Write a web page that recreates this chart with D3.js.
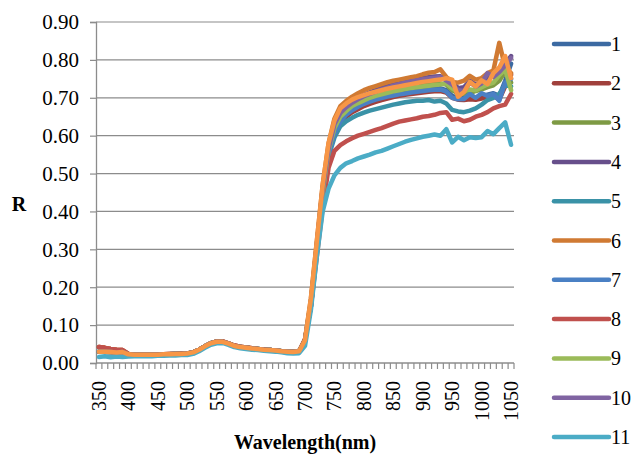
<!DOCTYPE html>
<html lang="en"><head><meta charset="utf-8">
<script src="https://cdn.jsdelivr.net/npm/d3@7"></script>
<style>
.xl{position:absolute;width:50px;height:20px;line-height:20px;text-align:right;white-space:nowrap;
    font-family:"Liberation Serif","FreeSerif","Tinos","Times New Roman",serif;
    font-size:20px;color:#000;transform-origin:0 0;transform:rotate(-90deg);}
</style>
</head><body style="margin:0" lang="en">
<div id="wrap" lang="en" style="position:relative;width:634px;height:454px;">
<svg id="chart" width="634" height="454" lang="en" xml:lang="en" style="position:absolute;left:0;top:0"></svg>
</div>
<script>
// ---------- data ----------
const wavelengths = d3.range(350, 1051, 10);            // 71 categories
const xTickLabels = ["350","400","450","500","550","600","650","700","750","800","850","900","950","1000","1050"];
const yTickValues = [0,0.1,0.2,0.3,0.4,0.5,0.6,0.7,0.8,0.9];
const legendNames = ["1","2","3","4","5","6","7","8","9","10","11"];
const seriesColors = ["#3C6AA2","#A0403C","#7E9A44","#674F8B","#3A92A7","#D07A33","#4A80C4","#C0504D","#9BBB59","#8064A2","#4BACC6","#F79646"];

// 350..700 nm (36 values)
const lowCommon = [0.030,0.030,0.029,0.028,0.029,0.023,0.022,0.022,0.022,0.022,0.022,0.023,0.023,0.024,0.024,0.025,0.028,0.035,0.044,0.052,0.056,0.056,0.051,0.045,0.042,0.040,0.038,0.037,0.035,0.034,0.033,0.031,0.030,0.029,0.031,0.060];
const lowHigh   = [0.042,0.040,0.037,0.035,0.034,0.024,0.022,0.022,0.022,0.022,0.023,0.023,0.024,0.024,0.025,0.025,0.028,0.035,0.044,0.052,0.057,0.057,0.052,0.046,0.043,0.041,0.039,0.037,0.036,0.034,0.033,0.031,0.030,0.029,0.031,0.062];
const lowTeal   = [0.016,0.018,0.015,0.017,0.016,0.017,0.018,0.018,0.018,0.018,0.019,0.019,0.020,0.020,0.021,0.021,0.024,0.031,0.040,0.048,0.052,0.053,0.048,0.042,0.039,0.037,0.035,0.034,0.032,0.031,0.030,0.028,0.026,0.025,0.026,0.045];

// 710..1050 nm (35 values)
const high1  = [.15,.30,.45,.56,.615,.645,.66,.672,.68,.688,.693,.698,.702,.706,.709,.712,.714,.717,.719,.721,.722,.723,.725,.72,.705,.70,.70,.702,.70,.703,.708,.712,.705,.745,.79];
const high2  = [.15,.30,.44,.55,.605,.635,.65,.662,.67,.678,.684,.689,.694,.698,.702,.705,.708,.71,.712,.714,.716,.717,.718,.714,.70,.695,.694,.696,.695,.698,.702,.705,.695,.73,.76];
const high3  = [.16,.31,.46,.565,.625,.655,.67,.682,.69,.697,.703,.708,.712,.717,.72,.723,.726,.728,.73,.733,.735,.737,.738,.735,.72,.712,.71,.712,.718,.722,.728,.733,.745,.77,.74];
const high4  = [.16,.31,.46,.57,.635,.665,.68,.692,.70,.708,.714,.72,.726,.731,.736,.74,.744,.747,.75,.752,.754,.756,.757,.75,.742,.725,.728,.745,.735,.742,.755,.762,.77,.79,.81];
const high5  = [.15,.30,.44,.545,.595,.625,.638,.647,.655,.661,.666,.67,.674,.678,.682,.685,.688,.69,.692,.692,.694,.69,.692,.685,.668,.664,.662,.666,.672,.682,.694,.70,.71,.735,.73];
const high6  = [.17,.32,.47,.58,.645,.678,.692,.703,.712,.72,.726,.731,.736,.741,.745,.748,.751,.754,.757,.762,.766,.768,.775,.755,.742,.74,.745,.758,.748,.752,.765,.772,.845,.78,.765];
const high7  = [.15,.29,.44,.55,.605,.638,.655,.667,.676,.684,.69,.695,.699,.703,.706,.709,.711,.714,.716,.718,.72,.721,.722,.716,.70,.696,.697,.71,.70,.712,.705,.71,.692,.74,.75];
const high8  = [.15,.28,.41,.515,.56,.575,.585,.593,.60,.605,.61,.615,.62,.626,.632,.637,.64,.643,.646,.65,.652,.655,.66,.662,.642,.645,.638,.642,.65,.655,.662,.672,.678,.682,.71];
const high9  = [.16,.30,.45,.56,.62,.65,.665,.678,.686,.693,.70,.705,.709,.713,.717,.72,.723,.726,.728,.73,.732,.734,.735,.738,.725,.715,.718,.722,.72,.728,.735,.74,.76,.775,.72];
const high10 = [.16,.31,.46,.565,.63,.66,.675,.687,.696,.704,.71,.716,.722,.727,.732,.736,.74,.743,.746,.749,.751,.753,.755,.745,.735,.72,.718,.74,.73,.738,.765,.755,.768,.785,.805];
const high11 = [.14,.28,.40,.46,.495,.515,.527,.533,.54,.545,.55,.556,.56,.566,.572,.578,.584,.589,.593,.597,.60,.603,.60,.617,.582,.597,.588,.596,.594,.596,.612,.604,.62,.635,.576];
const high12 = [.17,.32,.47,.58,.64,.672,.685,.695,.702,.707,.712,.716,.72,.724,.727,.73,.733,.736,.739,.742,.744,.746,.748,.752,.748,.703,.715,.742,.73,.746,.736,.765,.78,.81,.752];

const seriesValues = [
  lowCommon.concat(high1), lowHigh.concat(high2), lowCommon.concat(high3), lowCommon.concat(high4),
  lowCommon.concat(high5), lowHigh.concat(high6), lowCommon.concat(high7), lowHigh.concat(high8),
  lowCommon.concat(high9), lowCommon.concat(high10), lowTeal.concat(high11), lowCommon.concat(high12)
];

// ---------- chart ----------
const svg = d3.select("#chart");
const FONT = '"Liberation Serif","FreeSerif","Tinos","Times New Roman",serif';
const L = 96, R = 514, T = 22, B = 363;

const x = d3.scaleBand().domain(wavelengths).range([L, R]).padding(0);
const cx = w => x(w) + x.bandwidth() / 2;
const y = d3.scaleLinear().domain([0, 0.9]).range([B, T]);

const gridCol = "#8c8c8c";

// gridlines
svg.append("g").selectAll("line").data(yTickValues.filter(v => v > 0)).join("line")
  .attr("x1", L).attr("x2", R).attr("y1", d => y(d)).attr("y2", d => y(d))
  .attr("stroke", gridCol).attr("stroke-width", 1.2);

// y axis (line + ticks from d3 axis; labels placed without transforms)
const yAxis = d3.axisLeft(y).tickValues(yTickValues).tickSize(6).tickFormat("");
const gy = svg.append("g").attr("transform", `translate(${L},0)`).call(yAxis);
gy.select(".domain").attr("stroke", gridCol).attr("stroke-width", 1.3);
gy.selectAll(".tick line").attr("stroke", gridCol).attr("stroke-width", 1.2);
gy.selectAll(".tick text").remove();
svg.append("g").selectAll("text").data(yTickValues).join("text")
  .attr("x", L - 17).attr("y", d => y(d)).attr("dy", "0.35em")
  .attr("text-anchor", "end").attr("fill", "#000").attr("lang", "en")
  .attr("font-family", FONT).attr("font-size", 21)
  .text(d => d3.format(".2f")(d));

// x axis (category boundaries as ticks)
svg.append("line").attr("x1", L).attr("x2", R).attr("y1", B).attr("y2", B)
  .attr("stroke", gridCol).attr("stroke-width", 1.3);
const bounds = wavelengths.map(w => x(w)).concat([R]);
svg.append("g").selectAll("line").data(bounds).join("line")
  .attr("x1", d => d).attr("x2", d => d).attr("y1", B).attr("y2", B + 6)
  .attr("stroke", gridCol).attr("stroke-width", 1.2);

// rotated x labels as HTML overlay
d3.select("#wrap").selectAll("div.xl").data(xTickLabels).join("div")
  .attr("class", "xl").attr("lang", "en")
  .style("left", d => (cx(+d) - 10) + "px")
  .style("top", (381 + 50) + "px")
  .text(d => d);

// axis titles
svg.append("text").attr("x", 19).attr("y", 204)
  .attr("text-anchor", "middle").attr("dy", "0.35em")
  .attr("font-family", FONT).attr("font-size", 20).attr("font-weight", "bold").text("R");
svg.append("text").attr("x", 305).attr("y", 449)
  .attr("text-anchor", "middle")
  .attr("font-family", FONT).attr("font-size", 20).attr("font-weight", "bold").text("Wavelength(nm)");

// series lines
const line = d3.line().x((d, i) => cx(wavelengths[i])).y(d => y(d));
svg.append("g").selectAll("path").data(seriesValues).join("path")
  .attr("d", d => line(d))
  .attr("fill", "none")
  .attr("stroke", (d, i) => seriesColors[i])
  .attr("stroke-width", 4.5)
  .attr("stroke-linejoin", "round").attr("stroke-linecap", "round");

// legend (entries visible in the reference)
const legY = (d, i) => 44 + i * 39.3;
const lg = svg.append("g");
lg.selectAll("line").data(legendNames).join("line")
  .attr("x1", 554).attr("x2", 609).attr("y1", legY).attr("y2", legY)
  .attr("stroke", (d, i) => seriesColors[i]).attr("stroke-width", 4.5).attr("stroke-linecap", "round");
lg.selectAll("text").data(legendNames).join("text")
  .attr("x", 611).attr("y", legY).attr("dy", "0.35em").attr("lang", "en")
  .attr("font-family", FONT).attr("font-size", 20).text(d => d);
</script>
</body></html>
